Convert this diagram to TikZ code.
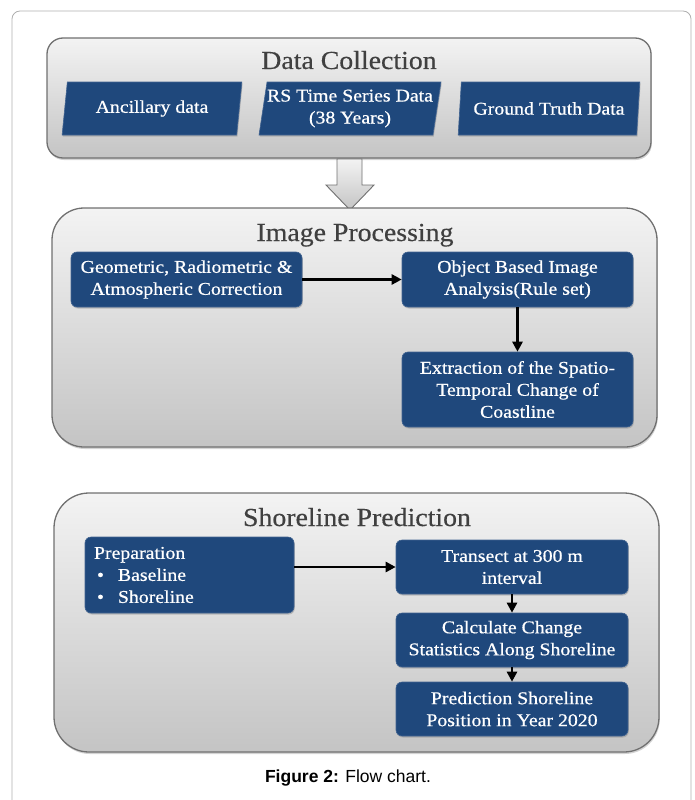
\documentclass[tikz,border=0pt]{standalone}
\usepackage{fontspec}
\setmainfont{Liberation Serif}
\newfontfamily\boxserif[FakeStretch=1.1,FakeBold=0.6]{Liberation Serif}
\newfontfamily\titleserif[FakeStretch=1.07,FakeBold=0.4]{Liberation Serif}
\newfontfamily\capfont{Liberation Sans}
\usetikzlibrary{shapes.geometric,shadows,arrows.meta}

\definecolor{boxblue}{RGB}{31,72,124}
\definecolor{boxedge}{RGB}{66,100,145}
\definecolor{paneltop}{RGB}{243,243,243}
\definecolor{panelbot}{RGB}{196,196,196}
\definecolor{panelline}{RGB}{112,112,112}
\definecolor{titlegray}{RGB}{64,64,64}
\definecolor{framegray}{RGB}{175,175,175}

\tikzset{
  panel/.style={draw=panelline, line width=1.3pt, top color=paneltop, bottom color=panelbot,
    drop shadow={shadow xshift=0.8pt, shadow yshift=-2pt, opacity=0.35}},
  paneltitle/.style={text=titlegray, font=\titleserif\fontsize{26}{30}\selectfont, inner sep=0, anchor=base},
  bluefill/.style={fill=boxblue, draw=boxedge, line width=0.6pt, text=white,
    font=\boxserif\fontsize{18}{22}\selectfont, inner sep=0,
    drop shadow={shadow xshift=0.8pt, shadow yshift=-1.5pt, opacity=0.4}},
  blockbox/.style={bluefill, rounded corners=6pt, align=center},
  datashape/.style={bluefill, trapezium, trapezium left angle=78, trapezium right angle=102,
    trapezium stretches=true, align=center},
  flow/.style={line width=2.6pt, -{Triangle[length=10pt,width=10pt]}},
}

\begin{document}
\begin{tikzpicture}[x=1pt, y=-1pt]
\useasboundingbox (0,0) rectangle (694,800);

% page frame
\begin{scope}
\clip (0,0) rectangle (694,800);
\draw[framegray, line width=0.8pt, rounded corners=8pt] (12,11) rectangle (691,840);
\end{scope}

% ---------- Data Collection ----------
\node[panel, rounded corners=16pt, minimum width=604, minimum height=120] (dc) at (349,98) {};
\node[paneltitle] (dctitle) at (349,69) {Data Collection};
\node[datashape, minimum width=180, minimum height=53] (anc) at (152,108.5) {Ancillary data};
\node[datashape, minimum width=180, minimum height=53] (rs) at (350,108.5) {RS Time Series Data\\(38 Years)};
\node[datashape, minimum width=182, minimum height=53] (gt) at (549,108.5) {Ground Truth Data};

% hollow arrow between the first two stages
\draw[panelline, line width=0.9pt, top color=paneltop, bottom color=panelbot]
  (337,159) -- (362,159) -- (362,185) -- (374,185) -- (350,210) -- (326,185) -- (337,185) -- cycle;

% ---------- Image Processing ----------
\node[panel, rounded corners=32pt, minimum width=605, minimum height=239] (ip) at (354.5,327.5) {};
\node[paneltitle] (iptitle) at (355,241) {Image Processing};
\node[blockbox, minimum width=231, minimum height=55] (geo) at (186.5,279.5)
  {Geometric, Radiometric \&\\Atmospheric Correction};
\node[blockbox, minimum width=231, minimum height=55] (obia) at (517.5,279.5)
  {Object Based Image\\Analysis(Rule set)};
\node[blockbox, minimum width=231, minimum height=75] (ext) at (517.5,389.5)
  {Extraction of the Spatio-\\Temporal Change of\\Coastline};
\draw[flow] (geo) -- (obia);
\draw[flow] (obia) -- (ext);

% ---------- Shoreline Prediction ----------
\node[panel, rounded corners=35pt, minimum width=605, minimum height=259] (sp) at (356.5,622.5) {};
\node[paneltitle] (sptitle) at (357,526) {Shoreline Prediction};
\node[blockbox, align=left, inner xsep=9pt, text width=191, minimum height=76] (prep) at (189.5,575)
  {Preparation\\
   \hspace*{3pt}\textbullet\hspace{14pt}Baseline\\
   \hspace*{3pt}\textbullet\hspace{14pt}Shoreline};
\node[blockbox, minimum width=232, minimum height=54] (tr) at (512,567)
  {Transect at 300 m\\interval};
\node[blockbox, minimum width=232, minimum height=54] (calc) at (512,640)
  {Calculate Change\\Statistics Along Shoreline};
\node[blockbox, minimum width=232, minimum height=54] (pred) at (512,709)
  {Prediction Shoreline\\Position in Year 2020};
\draw[flow] (prep.east |- tr) -- (tr);
\draw[flow] (tr) -- (calc);
\draw[flow] (calc) -- (pred);

% caption
\node[font=\capfont\fontsize{17.5}{20}\selectfont, inner sep=0] (cap) at (348,778)
  {\textbf{Figure 2:} Flow chart.};
\end{tikzpicture}
\end{document}
